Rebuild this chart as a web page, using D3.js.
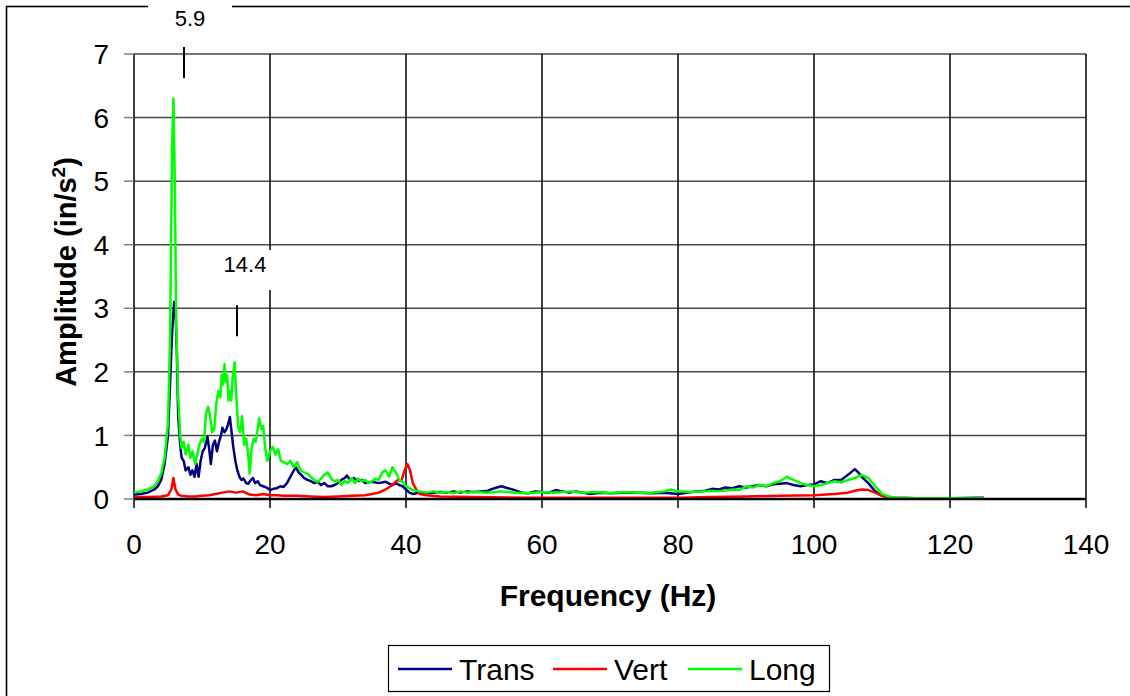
<!DOCTYPE html>
<meta charset="utf-8">
<script src="https://cdn.jsdelivr.net/npm/d3@7"></script>
<style>
  body { margin: 0; background: #fff; }
  text { font-family: "Liberation Sans", Arial, sans-serif; }
</style>
<body>
<script>

var width = 1130
var height = 696

// series: [frequency Hz, amplitude in/s^2]
var trans = [[0,0.07],[1,0.08],[2,0.1],[3,0.15],[3.5,0.2],[4,0.3],[4.5,0.55],[5,1.0],[5.3,1.8],[5.6,2.6],[5.9,3.1],[6.1,3.0],[6.3,2.3],[6.5,1.3],[6.8,0.85],[7.0,0.65],[7.3,0.6],[7.6,0.45],[8.0,0.5],[8.3,0.38],[8.6,0.45],[8.9,0.35],[9.2,0.55],[9.5,0.35],[9.8,0.6],[10.1,0.75],[10.4,0.8],[10.8,0.98],[11.1,0.75],[11.3,0.55],[11.6,0.85],[11.9,0.92],[12.2,0.75],[12.5,0.9],[12.8,1.0],[13.0,1.12],[13.3,1.05],[13.6,1.1],[13.9,1.2],[14.1,1.29],[14.3,1.1],[14.6,0.82],[14.9,0.6],[15.2,0.45],[15.5,0.35],[15.8,0.3],[16.1,0.32],[16.5,0.25],[16.8,0.24],[17.2,0.3],[17.5,0.33],[17.8,0.25],[18.2,0.28],[18.5,0.22],[19,0.2],[19.5,0.18],[20,0.14],[20.5,0.16],[21,0.17],[21.5,0.2],[22,0.19],[22.5,0.25],[23,0.35],[23.5,0.45],[23.8,0.5],[24.2,0.42],[24.6,0.38],[25,0.33],[25.5,0.3],[26,0.28],[26.5,0.25],[27,0.27],[27.5,0.22],[28,0.25],[28.5,0.2],[29,0.2],[29.5,0.22],[30,0.25],[30.5,0.3],[31,0.33],[31.3,0.37],[31.8,0.3],[32.3,0.33],[33,0.28],[33.5,0.3],[34,0.25],[35,0.27],[36,0.25],[37,0.27],[38,0.22],[38.5,0.25],[39,0.22],[39.5,0.2],[40,0.15],[40.5,0.1],[41,0.08],[42,0.1],[43,0.09],[44,0.1],[45,0.11],[46,0.1],[47,0.12],[48,0.1],[49,0.12],[50,0.11],[51,0.12],[52,0.13],[53,0.17],[54,0.2],[55,0.17],[56,0.14],[57,0.1],[58,0.09],[59,0.12],[60,0.11],[61,0.1],[62,0.14],[63,0.12],[64,0.1],[65,0.12],[66,0.1],[67,0.08],[68,0.09],[69,0.1],[70,0.09],[72,0.1],[74,0.1],[76,0.09],[78,0.1],[80,0.08],[82,0.11],[84,0.13],[85,0.16],[86,0.15],[87,0.18],[88,0.17],[89,0.2],[90,0.18],[91,0.2],[92,0.22],[93,0.2],[94,0.23],[95,0.24],[96,0.25],[97,0.22],[98,0.2],[99,0.22],[100,0.23],[101,0.28],[102,0.25],[103,0.3],[104,0.3],[105,0.38],[106,0.47],[106.5,0.42],[107,0.35],[108,0.25],[109,0.12],[110,0.05],[111,0.03],[112,0.02],[115,0.01],[120,0.01],[124,0.02],[125,0.02]]

var vert = [[0,0.03],[2,0.03],[4,0.04],[5,0.06],[5.5,0.15],[5.8,0.33],[6.1,0.15],[6.5,0.07],[7,0.05],[8,0.04],[9,0.04],[10,0.05],[11,0.06],[12,0.08],[13,0.1],[14,0.12],[15,0.1],[16,0.12],[17,0.07],[18,0.06],[19,0.08],[20,0.06],[21,0.06],[22,0.05],[24,0.05],[26,0.04],[28,0.03],[30,0.04],[32,0.05],[34,0.06],[35,0.08],[36,0.1],[37,0.15],[38,0.22],[38.8,0.3],[39.3,0.28],[39.8,0.45],[40.2,0.55],[40.6,0.45],[41,0.25],[41.5,0.15],[42,0.08],[43,0.06],[45,0.04],[50,0.03],[60,0.02],[70,0.02],[80,0.02],[85,0.03],[90,0.04],[95,0.05],[100,0.06],[103,0.08],[105,0.1],[106,0.13],[107,0.15],[108,0.14],[109,0.1],[110,0.05],[111,0.02],[115,0.01],[125,0.01]]

var long = [[0,0.1],[1,0.12],[2,0.15],[3,0.2],[3.5,0.28],[4,0.4],[4.5,0.65],[5,1.2],[5.3,2.5],[5.6,5.5],[5.8,6.3],[6.0,5.0],[6.2,2.8],[6.5,1.6],[6.8,1.0],[7.0,0.8],[7.3,0.9],[7.6,0.7],[8.0,0.85],[8.3,0.65],[8.6,0.75],[9.0,0.55],[9.3,0.7],[9.6,0.85],[10.0,0.95],[10.3,0.9],[10.6,1.35],[10.9,1.45],[11.2,1.3],[11.5,1.05],[11.8,1.1],[12.1,1.5],[12.4,1.7],[12.7,1.6],[12.9,1.95],[13.1,1.8],[13.3,2.12],[13.5,1.85],[13.7,1.95],[13.9,1.55],[14.1,1.7],[14.3,1.55],[14.5,1.9],[14.8,2.15],[15.0,1.7],[15.3,1.15],[15.6,1.05],[15.9,1.3],[16.2,0.85],[16.5,0.95],[16.8,0.7],[17.0,0.4],[17.3,0.8],[17.6,0.95],[17.9,0.9],[18.2,1.1],[18.4,1.27],[18.7,1.1],[19.0,1.15],[19.3,0.8],[19.6,0.6],[20.0,0.75],[20.4,0.82],[20.8,0.7],[21.2,0.78],[21.6,0.6],[22.0,0.58],[22.5,0.55],[23.0,0.6],[23.5,0.5],[24.0,0.58],[24.5,0.45],[25.0,0.42],[25.5,0.4],[26.0,0.35],[26.5,0.3],[27.0,0.27],[27.5,0.32],[28.0,0.38],[28.5,0.42],[29.0,0.32],[29.5,0.28],[30,0.3],[30.5,0.22],[31,0.28],[31.5,0.25],[32,0.33],[32.5,0.25],[33,0.32],[33.5,0.28],[34,0.3],[34.5,0.25],[35,0.28],[35.5,0.32],[36,0.3],[36.5,0.42],[37,0.45],[37.5,0.35],[38,0.5],[38.3,0.45],[38.7,0.38],[39,0.3],[39.5,0.27],[40,0.2],[40.5,0.17],[41,0.14],[42,0.12],[43,0.1],[44,0.12],[45,0.1],[46,0.11],[47,0.09],[48,0.12],[49,0.1],[50,0.11],[52,0.1],[54,0.12],[56,0.1],[58,0.09],[60,0.11],[62,0.1],[64,0.12],[66,0.1],[68,0.11],[70,0.09],[72,0.11],[74,0.1],[76,0.1],[78,0.12],[79,0.15],[80,0.12],[82,0.11],[84,0.12],[85,0.13],[86,0.12],[88,0.15],[89,0.14],[90,0.2],[91,0.18],[92,0.22],[93,0.2],[94,0.25],[95,0.28],[96,0.35],[97,0.3],[98,0.25],[99,0.22],[100,0.2],[101,0.22],[102,0.25],[103,0.28],[104,0.26],[105,0.3],[106,0.33],[107,0.38],[108,0.33],[109,0.2],[110,0.08],[111,0.04],[112,0.02],[115,0.01],[120,0.01],[125,0.01]]

var series = [
  {name: "Trans", data: trans, color: "#000080"},
  {name: "Vert", data: vert, color: "#ff0000"},
  {name: "Long", data: long, color: "#00ff00"}
]

var xTicks = [0, 20, 40, 60, 80, 100, 120, 140]
var yTicks = [0, 1, 2, 3, 4, 5, 6, 7]

// peak annotations: label, marker frequency and marker extent
var peaks = [{label: "5.9", f: 7.35, top: 7.11, bottom: 6.62, tx: 190, ty: 26},
             {label: "14.4", f: 15.15, top: 3.05, bottom: 2.56, tx: 245, ty: 272}]

var x = d3.scaleLinear().domain([0, 140]).range([134, 1086])
var y = d3.scaleLinear().domain([0, 7]).range([499, 54])

var svg = d3.select("body").append("svg")
            .attr("width", width)
            .attr("height", height)

// outer chart frame, runs off the right / bottom of the picture
svg.append("rect")
   .attr("x", 6.5).attr("y", 6.5)
   .attr("width", 1200).attr("height", 800)
   .attr("fill", "none").attr("stroke", "#000").attr("stroke-width", 1.6)

// gridlines
svg.append("g").selectAll("line").data(yTicks.slice(1)).join("line")
   .attr("x1", x(0)).attr("x2", x(140))
   .attr("y1", d => y(d)).attr("y2", d => y(d))
   .attr("stroke", "#4a4a4a").attr("stroke-width", 1.5)

svg.append("g").selectAll("line").data(xTicks).join("line")
   .attr("x1", d => x(d)).attr("x2", d => x(d))
   .attr("y1", y(7)).attr("y2", y(0) + 9)
   .attr("stroke", "#000").attr("stroke-width", 1.5)

// y tick marks
svg.append("g").selectAll("line").data(yTicks).join("line")
   .attr("x1", x(0) - 10).attr("x2", x(0))
   .attr("y1", d => y(d)).attr("y2", d => y(d))
   .attr("stroke", "#808080").attr("stroke-width", 1.5)

// annotation label boxes (white, cover grid / frame)
svg.append("rect").attr("x", 148).attr("y", 0).attr("width", 84).attr("height", 40).attr("fill", "#fff")
svg.append("rect").attr("x", 218).attr("y", 250).attr("width", 54).attr("height", 40).attr("fill", "#fff")

svg.append("g").selectAll("line").data(peaks).join("line")
   .attr("x1", d => x(d.f)).attr("x2", d => x(d.f))
   .attr("y1", d => y(d.top)).attr("y2", d => y(d.bottom))
   .attr("stroke", "#000").attr("stroke-width", 2)

svg.append("g").selectAll("text").data(peaks).join("text")
   .attr("x", d => d.tx)
   .attr("y", d => d.ty)
   .attr("text-anchor", "middle")
   .style("font-size", "22px")
   .text(d => d.label)

// data lines
var line = d3.line().x(d => x(d[0])).y(d => y(d[1]))

svg.append("g").selectAll("path").data(series).join("path")
   .attr("d", d => line(d.data))
   .attr("fill", "none")
   .attr("stroke", d => d.color)
   .attr("stroke-width", 2.5)
   .attr("stroke-linejoin", "round")

// x axis baseline
svg.append("line")
   .attr("x1", x(0)).attr("x2", x(140))
   .attr("y1", y(0)).attr("y2", y(0))
   .attr("stroke", "#000").attr("stroke-width", 2.5)

// tick labels
svg.append("g").selectAll("text").data(yTicks).join("text")
   .attr("x", 109).attr("y", d => y(d)).attr("dy", "0.36em")
   .attr("text-anchor", "end")
   .style("font-size", "28px")
   .text(d => d)

svg.append("g").selectAll("text").data(xTicks).join("text")
   .attr("x", d => x(d)).attr("y", 554)
   .attr("text-anchor", "middle")
   .style("font-size", "28px")
   .text(d => d)

// axis titles
svg.append("text")
   .attr("x", 608).attr("y", 606)
   .attr("text-anchor", "middle")
   .style("font-size", "30px").style("font-weight", "bold")
   .text("Frequency (Hz)")

var yt = svg.append("text")
   .attr("transform", "translate(76,272) rotate(-90)")
   .attr("text-anchor", "middle")
   .style("font-size", "29px").style("font-weight", "bold")
yt.append("tspan").text("Amplitude (in/s")
yt.append("tspan").attr("dy", -11).style("font-size", "19px").text("2")
yt.append("tspan").attr("dy", 11).text(")")

// legend
var legend = svg.append("g")
legend.append("rect")
   .attr("x", 388.5).attr("y", 645.5).attr("width", 441).attr("height", 46)
   .attr("fill", "#fff").attr("stroke", "#000").attr("stroke-width", 1.2)

var legX = [398, 553, 688]
var item = legend.selectAll("g").data(series).join("g")
   .attr("transform", (d, i) => "translate(" + legX[i] + ",669)")
item.append("line").attr("x1", 0).attr("x2", 54)
   .attr("stroke", d => d.color).attr("stroke-width", 2.5)
item.append("text").attr("x", 61).attr("y", 11)
   .style("font-size", "30px")
   .text(d => d.name)

</script>
</body>
